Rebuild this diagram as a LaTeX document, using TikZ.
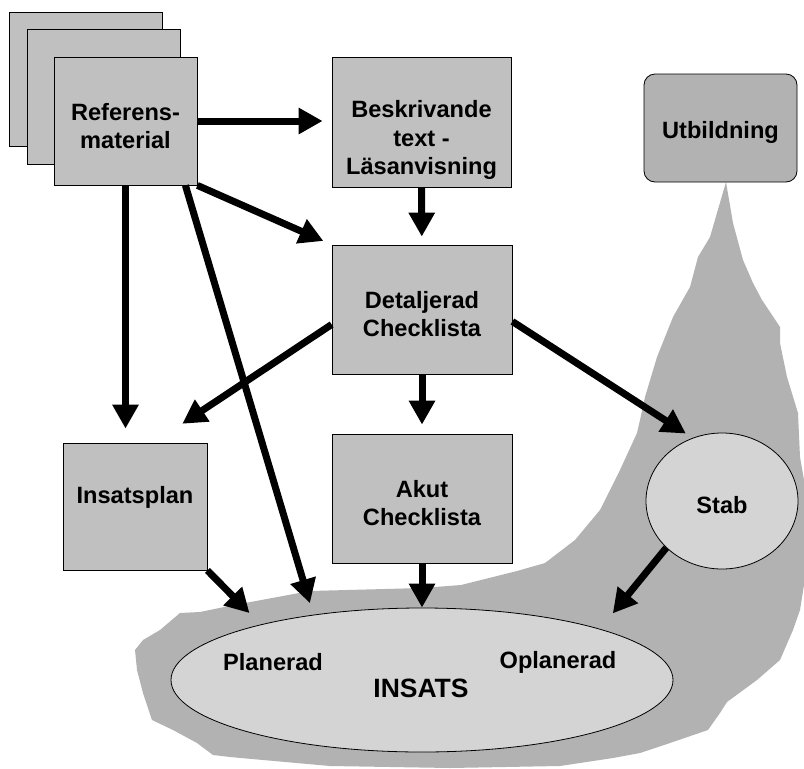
\documentclass[tikz,border=0pt]{standalone}
\usepackage{fontspec}
\setmainfont{Liberation Sans}
\usetikzlibrary{arrows.meta,positioning,shapes.geometric}

\definecolor{boxgray}{RGB}{192,192,192}
\definecolor{blobgray}{RGB}{178,178,178}
\definecolor{ovalgray}{RGB}{212,212,212}

\begin{document}
\begin{tikzpicture}[
    x=1pt, y=-1pt,
    font=\bfseries\fontsize{23.6}{28.5}\selectfont,
    box/.style={
        draw,
        line width=0.8pt,
        fill=boxgray,
        minimum width=180pt,
        minimum height=129pt,
        inner sep=0pt
    },
    oval/.style={
        ellipse,
        draw,
        line width=0.8pt,
        fill=ovalgray,
        inner sep=0pt
    },
    txt/.style={
        align=center,
        inner sep=0pt
    },
    edge/.style={-{Triangle[width=25pt,length=24pt]}, line width=7pt}
]
    \useasboundingbox (0,0) rectangle (804,769);

    % grey area behind Stab and INSATS
    \fill[blobgray] (726,182) -- (733,223) -- (743,260) -- (753,283) -- (762,300)
        -- (780,327) -- (780,343) -- (787,377) -- (798,413) -- (800,457) -- (804,480)
        -- (804,585) -- (800,610) -- (793,630) -- (780,660) -- (757,680) -- (727,702)
        -- (720,713) -- (708,730) -- (670,743) -- (640,753) -- (613,758) -- (560,766)
        -- (450,768) -- (330,766) -- (263,760) -- (230,757) -- (213,755) -- (197,743)
        -- (173,730) -- (152,720) -- (143,693) -- (137,670) -- (135,650) -- (143,640)
        -- (160,630) -- (180,613) -- (200,612) -- (229,606) -- (310,591) -- (422,588)
        -- (461,585) -- (517,571) -- (545,563) -- (575,540) -- (600,510) -- (620,470)
        -- (637,433) -- (640,420) -- (645,397) -- (657,357) -- (673,317) -- (690,287)
        -- (698,257) -- (710,237) -- cycle;

    % stacked reference sheets
    \node[box, minimum width=153pt, minimum height=134pt] (page3) at (85.5,79) {};
    \node[box, minimum width=153pt, minimum height=135pt] (page2) at (103.5,96.5) {};
    \node[box, minimum width=143pt, minimum height=128pt] (refmat) at (125.5,121) {};
    \node[txt] (refmat-t) at (125.5,126) {Referens-\\material};

    \node[box, minimum width=179pt, minimum height=130pt] (beskr) at (421.5,122) {};
    \node[txt] (beskr-t) at (421.5,140) {Beskrivande\\text -\\Läsanvisning};

    \node[box, rounded corners=11pt, fill=blobgray, minimum width=153pt, minimum height=108pt] (utb) at (720.5,128) {};
    \node[txt] (utb-t) at (720.5,132) {Utbildning};

    \node[box] (detalj) at (422,309.5) {};
    \node[txt] (detalj-t) at (422,314) {Detaljerad\\Checklista};

    \node[box, minimum width=144pt, minimum height=127pt] (insplan) at (135,506.5) {};
    \node[txt] (insplan-t) at (135,497) {Insatsplan};

    \node[box] (akut) at (422,498.5) {};
    \node[txt] (akut-t) at (422,503) {Akut\\Checklista};

    \node[oval, minimum width=152pt, minimum height=136pt] (stab) at (722,501) {};
    \node[txt] (stab-t) at (722,505) {Stab};

    \node[oval, minimum width=502pt, minimum height=144pt] (insats) at (422,680) {};
    \node[txt] (plan-t) at (273,662) {Planerad};
    \node[txt] (oplan-t) at (558,662) {Oplanerad};
    \node[txt, font=\bfseries\fontsize{26.5}{30}\selectfont] (insats-t) at (421,688) {INSATS};

    \draw[edge, shorten >=9pt] (refmat) -- (refmat -| beskr.west);
    \draw[edge, shorten >=8pt] (beskr) -- (detalj);
    \draw[edge, shorten >=9pt] (refmat.south east) -- (detalj.north west);
    \draw[edge, shorten >=14pt] (refmat) -- (refmat |- insplan.north);
    \draw[edge, shorten >=12pt] ([xshift=-12pt]refmat.south east) -- (insats.149);
    \draw[edge, shorten >=34pt] ([yshift=-15pt]detalj.west) -- ([xshift=19pt]insplan.north);
    \draw[edge, shorten >=9pt] (detalj) -- (akut);
    \draw[edge, shorten >=8pt] ([yshift=-12pt]detalj.east) -- (stab.115);
    \draw[edge, shorten >=16pt] (insplan.south east) -- (insats.161);
    \draw[edge] (akut) -- (insats);
    \draw[edge, shorten >=20pt] (stab.220) -- (insats.16.5);
\end{tikzpicture}
\end{document}
